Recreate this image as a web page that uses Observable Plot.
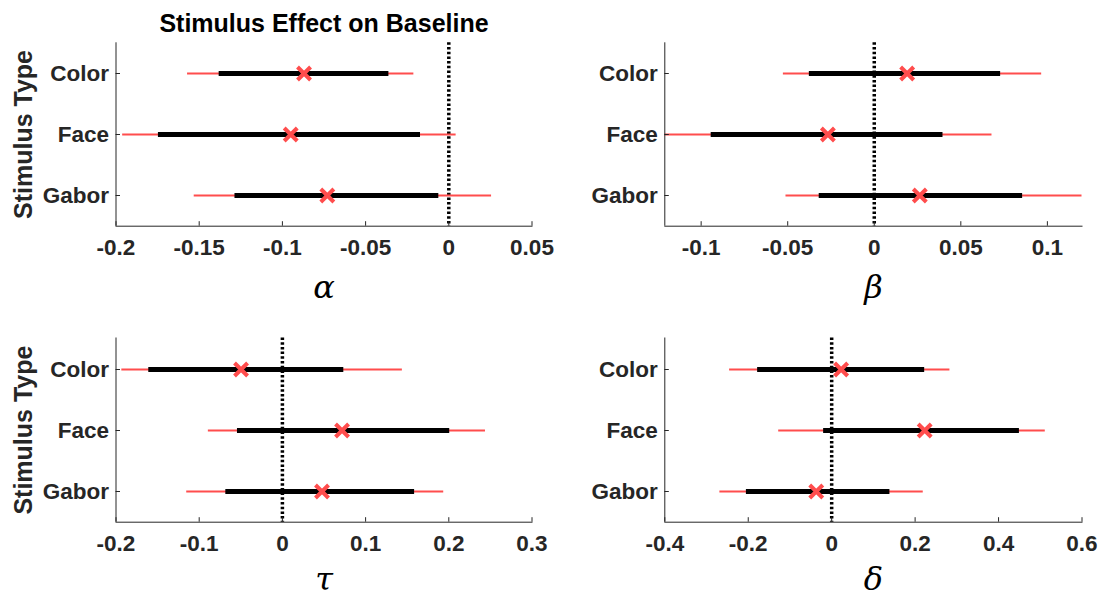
<!DOCTYPE html>
<html>
<head>
<meta charset="utf-8">
<script src="https://cdn.jsdelivr.net/npm/d3@7"></script>
<script src="https://cdn.jsdelivr.net/npm/@observablehq/plot@0.6"></script>
<style>
  html, body { margin: 0; padding: 0; background: #fff; }
  #chart { position: relative; width: 1101px; height: 598px; overflow: hidden; }
  #chart svg { position: absolute; left: 0; top: 0; }
</style>
</head>
<body>
<div id="chart"></div>
<script>
// ---- data ----
const categories = ["Color", "Face", "Gabor"];

// per parameter, values for Color, Face, Gabor
const alphaLo95 = [-0.157, -0.196, -0.153];
const alphaLo50 = [-0.138, -0.1745, -0.1285];
const alphaMed  = [-0.087, -0.095, -0.073];
const alphaHi50 = [-0.036, -0.017, -0.006];
const alphaHi95 = [-0.021, 0.0044, 0.0257];

const betaLo95 = [-0.0525, -0.121, -0.051];
const betaLo50 = [-0.0375, -0.0942, -0.0318];
const betaMed  = [0.019, -0.0268, 0.0263];
const betaHi50 = [0.073, 0.0397, 0.0857];
const betaHi95 = [0.0967, 0.068, 0.121];

const tauLo95 = [-0.193, -0.089, -0.115];
const tauLo50 = [-0.1606, -0.054, -0.068];
const tauMed  = [-0.0497, 0.0717, 0.0476];
const tauHi50 = [0.0738, 0.2011, 0.1589];
const tauHi95 = [0.1442, 0.2441, 0.1939];

const deltaLo95 = [-0.2447, -0.127, -0.268];
const deltaLo50 = [-0.1775, -0.0193, -0.2044];
const deltaMed  = [0.0227, 0.2229, -0.037];
const deltaHi50 = [0.2229, 0.45, 0.1396];
const deltaHi95 = [0.2834, 0.512, 0.2195];

const alphaTicks = [-0.2, -0.15, -0.1, -0.05, 0, 0.05];
const betaTicks  = [-0.1, -0.05, 0, 0.05, 0.1];
const tauTicks   = [-0.2, -0.1, 0, 0.1, 0.2, 0.3];
const deltaTicks = [-0.4, -0.2, 0, 0.2, 0.4, 0.6];

const alphaDomain = [-0.2, 0.05];
const betaDomain  = [-0.121, 0.12];
const tauDomain   = [-0.2, 0.3];
const deltaDomain = [-0.4, 0.6];

const titleText = "Stimulus Effect on Baseline";
const yLabelText = "Stimulus Type";

// ---- build ----
const W = 1101, H = 598;
const RED = "#ff4d4d";
const AXIS = "#262626";

function rows(lo95, lo50, med, hi50, hi95) {
  return categories.map((c, i) => ({cat: c, lo95: lo95[i], lo50: lo50[i], med: med[i], hi50: hi50[i], hi95: hi95[i]}));
}

const panels = [
  {data: rows(alphaLo95, alphaLo50, alphaMed, alphaHi50, alphaHi95), domain: alphaDomain, ticks: alphaTicks, sym: "α",
   box: [115.5, 531.5, 42.3, 225.7], labelDy: 72, title: true, ylabel: true},
  {data: rows(betaLo95, betaLo50, betaMed, betaHi50, betaHi95), domain: betaDomain, ticks: betaTicks, sym: "β",
   box: [664.3, 1081.5, 42.3, 225.7], labelDy: 72, title: false, ylabel: false},
  {data: rows(tauLo95, tauLo50, tauMed, tauHi50, tauHi95), domain: tauDomain, ticks: tauTicks, sym: "τ",
   box: [115.5, 531.5, 337.5, 521.7], labelDy: 67.5, title: false, ylabel: true},
  {data: rows(deltaLo95, deltaLo50, deltaMed, deltaHi50, deltaHi95), domain: deltaDomain, ticks: deltaTicks, sym: "δ",
   box: [664.3, 1081.5, 337.5, 521.7], labelDy: 67.5, title: false, ylabel: false}
];

const chart = document.getElementById("chart");

for (const p of panels) {
  const [x0, x1, y0, y1] = p.box;
  const innerW = x1 - x0, innerH = y1 - y0;
  const marks = [
    Plot.ruleX([0], {stroke: "black", strokeWidth: 3.5, strokeDasharray: "2.5,2.2"}),
    Plot.ruleY(p.data, {y: "cat", x1: "lo95", x2: "hi95", stroke: RED, strokeWidth: 2, clip: true}),
    Plot.ruleY(p.data, {y: "cat", x1: "lo50", x2: "hi50", stroke: "black", strokeWidth: 5, clip: true}),
    Plot.dot(p.data, {x: "med", y: "cat", symbol: "times", r: 6, stroke: RED, strokeWidth: 4}),
    Plot.ruleX([p.domain[0]], {stroke: AXIS, strokeWidth: 1}),
    Plot.frame({anchor: "bottom", stroke: AXIS, strokeWidth: 1}),
    Plot.tickX(p.ticks, {x: d => d, insetTop: innerH - 4.5, stroke: AXIS, strokeWidth: 1}),
    Plot.tickY(categories, {y: d => d, insetRight: innerW - 4.5, stroke: AXIS, strokeWidth: 1}),
    Plot.axisX(p.ticks, {tickSize: 0, tickPadding: 13, fontSize: 22.5, fontWeight: "bold", color: AXIS,
      tickFormat: d => String(d), label: null}),
    Plot.axisY({tickSize: 0, tickPadding: 7, fontSize: 22.5, fontWeight: "bold", color: AXIS, label: null}),
    Plot.text([p.sym], {text: d => d, frameAnchor: "bottom", dy: p.labelDy, lineAnchor: "bottom", textAnchor: "middle",
      fontSize: 32, fontStyle: "italic", fontFamily: "'DejaVu Serif', 'Liberation Serif', serif", fill: "black"})
  ];
  if (p.title) {
    marks.push(Plot.text([titleText], {text: d => d, frameAnchor: "top", dy: -10.6, lineAnchor: "bottom", textAnchor: "middle",
      fontSize: 25, fontWeight: "bold", fill: "black"}));
  }
  if (p.ylabel) {
    marks.push(Plot.text([yLabelText], {text: d => d, frameAnchor: "left", dx: -83.8, rotate: -90,
      lineAnchor: "bottom", textAnchor: "middle", fontSize: 25, fontWeight: "bold", fill: AXIS}));
  }
  const svg = Plot.plot({
    width: W,
    height: H,
    marginLeft: x0,
    marginRight: W - x1,
    marginTop: y0,
    marginBottom: H - y1,
    style: {fontFamily: "'Liberation Sans', Arial, sans-serif", background: "transparent", overflow: "visible"},
    x: {domain: p.domain},
    y: {type: "point", domain: categories, padding: 0.5},
    marks
  });
  chart.appendChild(svg);
}
</script>
</body>
</html>
